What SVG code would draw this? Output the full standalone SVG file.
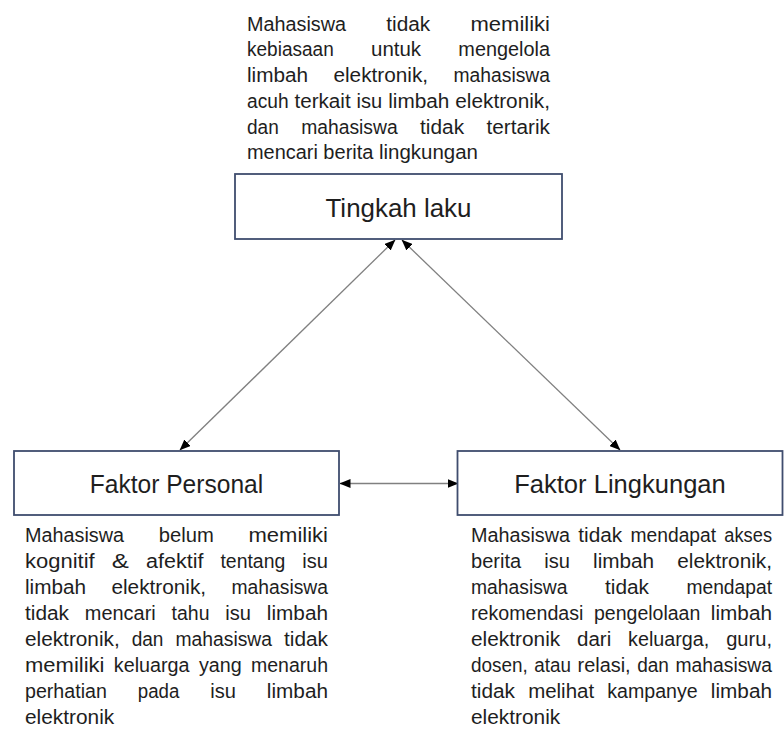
<svg xmlns="http://www.w3.org/2000/svg" width="784" height="729" viewBox="0 0 784 729">
<style>
text{font-family:"Liberation Sans",Arial,sans-serif;fill:#1e1e1e}
.box{fill:#fff;stroke:#3f4d6e;stroke-width:1.8}
.lbl{font-size:25px;text-anchor:middle}
.p{font-size:20px}
.c{fill:none;stroke:#808080;stroke-width:1.3;marker-start:url(#ah);marker-end:url(#ah)}
</style>
<defs>
<marker id="ah" markerUnits="userSpaceOnUse" markerWidth="11" markerHeight="9" refX="10.5" refY="4.5" orient="auto-start-reverse">
<path d="M0,0 L11,4.5 L0,9 z" fill="#000"/>
</marker>
</defs>
<rect width="784" height="729" fill="#fff"/>
<g id="connectors">
<line class="c" x1="395" y1="240" x2="180" y2="450"/>
<line class="c" x1="402" y1="240" x2="620" y2="450"/>
<line class="c" x1="340" y1="483.5" x2="458" y2="483.5"/>
</g>
<g id="tingkah-laku">
<rect class="box" x="235" y="174" width="327" height="65"/>
<text class="lbl" x="398.5" y="217" textLength="146" lengthAdjust="spacingAndGlyphs">Tingkah laku</text>
</g>
<g id="teks-tingkah-laku">
<text class="p" x="247" y="30.5" textLength="98.98" lengthAdjust="spacingAndGlyphs">Mahasiswa</text>
<text class="p" x="386.26" y="30.5" textLength="44" lengthAdjust="spacingAndGlyphs">tidak</text>
<text class="p" x="470.54" y="30.5" textLength="79.46" lengthAdjust="spacingAndGlyphs">memiliki</text>
<text class="p" x="247" y="56.3" textLength="86.75" lengthAdjust="spacingAndGlyphs">kebiasaan</text>
<text class="p" x="370.99" y="56.3" textLength="50.12" lengthAdjust="spacingAndGlyphs">untuk</text>
<text class="p" x="458.35" y="56.3" textLength="91.65" lengthAdjust="spacingAndGlyphs">mengelola</text>
<text class="p" x="247" y="82" textLength="61.12" lengthAdjust="spacingAndGlyphs">limbah</text>
<text class="p" x="333.44" y="82" textLength="94.71" lengthAdjust="spacingAndGlyphs">elektronik,</text>
<text class="p" x="453.47" y="82" textLength="96.54" lengthAdjust="spacingAndGlyphs">mahasiswa</text>
<text class="p" x="247" y="107.8" textLength="41.54" lengthAdjust="spacingAndGlyphs">acuh</text>
<text class="p" x="294.48" y="107.8" textLength="56.21" lengthAdjust="spacingAndGlyphs">terkait</text>
<text class="p" x="356.63" y="107.8" textLength="25.67" lengthAdjust="spacingAndGlyphs">isu</text>
<text class="p" x="388.24" y="107.8" textLength="61.12" lengthAdjust="spacingAndGlyphs">limbah</text>
<text class="p" x="455.3" y="107.8" textLength="94.71" lengthAdjust="spacingAndGlyphs">elektronik,</text>
<text class="p" x="247" y="133.6" textLength="31.77" lengthAdjust="spacingAndGlyphs">dan</text>
<text class="p" x="301.15" y="133.6" textLength="96.54" lengthAdjust="spacingAndGlyphs">mahasiswa</text>
<text class="p" x="420.07" y="133.6" textLength="44" lengthAdjust="spacingAndGlyphs">tidak</text>
<text class="p" x="486.46" y="133.6" textLength="63.54" lengthAdjust="spacingAndGlyphs">tertarik</text>
<text class="p" x="247" y="159.4" textLength="70.86" lengthAdjust="spacingAndGlyphs">mencari</text>
<text class="p" x="323.36" y="159.4" textLength="50.09" lengthAdjust="spacingAndGlyphs">berita</text>
<text class="p" x="378.95" y="159.4" textLength="99" lengthAdjust="spacingAndGlyphs">lingkungan</text>
</g>
<g id="faktor-personal">
<rect class="box" x="14" y="451" width="325" height="64"/>
<text class="lbl" x="176.5" y="493" textLength="173.4" lengthAdjust="spacingAndGlyphs">Faktor Personal</text>
</g>
<g id="teks-faktor-personal">
<text class="p" x="25" y="542.3" textLength="98.98" lengthAdjust="spacingAndGlyphs">Mahasiswa</text>
<text class="p" x="158.76" y="542.3" textLength="55" lengthAdjust="spacingAndGlyphs">belum</text>
<text class="p" x="248.54" y="542.3" textLength="79.46" lengthAdjust="spacingAndGlyphs">memiliki</text>
<text class="p" x="25" y="568.2" textLength="69.67" lengthAdjust="spacingAndGlyphs">kognitif</text>
<text class="p" x="111.76" y="568.2" textLength="17.12" lengthAdjust="spacingAndGlyphs">&amp;</text>
<text class="p" x="145.97" y="568.2" textLength="57.42" lengthAdjust="spacingAndGlyphs">afektif</text>
<text class="p" x="220.48" y="568.2" textLength="64.77" lengthAdjust="spacingAndGlyphs">tentang</text>
<text class="p" x="302.34" y="568.2" textLength="25.67" lengthAdjust="spacingAndGlyphs">isu</text>
<text class="p" x="25" y="594.1" textLength="61.12" lengthAdjust="spacingAndGlyphs">limbah</text>
<text class="p" x="111.44" y="594.1" textLength="94.71" lengthAdjust="spacingAndGlyphs">elektronik,</text>
<text class="p" x="231.47" y="594.1" textLength="96.54" lengthAdjust="spacingAndGlyphs">mahasiswa</text>
<text class="p" x="25" y="620" textLength="44" lengthAdjust="spacingAndGlyphs">tidak</text>
<text class="p" x="84.87" y="620" textLength="70.86" lengthAdjust="spacingAndGlyphs">mencari</text>
<text class="p" x="171.6" y="620" textLength="37.88" lengthAdjust="spacingAndGlyphs">tahu</text>
<text class="p" x="225.35" y="620" textLength="25.67" lengthAdjust="spacingAndGlyphs">isu</text>
<text class="p" x="266.89" y="620" textLength="61.12" lengthAdjust="spacingAndGlyphs">limbah</text>
<text class="p" x="25" y="645.9" textLength="94.71" lengthAdjust="spacingAndGlyphs">elektronik,</text>
<text class="p" x="131.7" y="645.9" textLength="31.77" lengthAdjust="spacingAndGlyphs">dan</text>
<text class="p" x="175.46" y="645.9" textLength="96.54" lengthAdjust="spacingAndGlyphs">mahasiswa</text>
<text class="p" x="284" y="645.9" textLength="44" lengthAdjust="spacingAndGlyphs">tidak</text>
<text class="p" x="25" y="671.8" textLength="79.46" lengthAdjust="spacingAndGlyphs">memiliki</text>
<text class="p" x="113.81" y="671.8" textLength="75.75" lengthAdjust="spacingAndGlyphs">keluarga</text>
<text class="p" x="198.91" y="671.8" textLength="42.77" lengthAdjust="spacingAndGlyphs">yang</text>
<text class="p" x="251.03" y="671.8" textLength="76.98" lengthAdjust="spacingAndGlyphs">menaruh</text>
<text class="p" x="25" y="697.7" textLength="81.86" lengthAdjust="spacingAndGlyphs">perhatian</text>
<text class="p" x="137.8" y="697.7" textLength="41.54" lengthAdjust="spacingAndGlyphs">pada</text>
<text class="p" x="210.28" y="697.7" textLength="25.67" lengthAdjust="spacingAndGlyphs">isu</text>
<text class="p" x="266.89" y="697.7" textLength="61.12" lengthAdjust="spacingAndGlyphs">limbah</text>
<text class="p" x="25" y="723.6" textLength="89.21" lengthAdjust="spacingAndGlyphs">elektronik</text>
</g>
<g id="faktor-lingkungan">
<rect class="box" x="457.5" y="451" width="325" height="64"/>
<text class="lbl" x="620" y="493" textLength="211.6" lengthAdjust="spacingAndGlyphs">Faktor Lingkungan</text>
</g>
<g id="teks-faktor-lingkungan">
<text class="p" x="471" y="542.3" textLength="98.98" lengthAdjust="spacingAndGlyphs">Mahasiswa</text>
<text class="p" x="578.26" y="542.3" textLength="44" lengthAdjust="spacingAndGlyphs">tidak</text>
<text class="p" x="630.54" y="542.3" textLength="85.54" lengthAdjust="spacingAndGlyphs">mendapat</text>
<text class="p" x="724.36" y="542.3" textLength="47.65" lengthAdjust="spacingAndGlyphs">akses</text>
<text class="p" x="471" y="568.2" textLength="50.09" lengthAdjust="spacingAndGlyphs">berita</text>
<text class="p" x="544.23" y="568.2" textLength="25.67" lengthAdjust="spacingAndGlyphs">isu</text>
<text class="p" x="593.04" y="568.2" textLength="61.12" lengthAdjust="spacingAndGlyphs">limbah</text>
<text class="p" x="677.3" y="568.2" textLength="94.71" lengthAdjust="spacingAndGlyphs">elektronik,</text>
<text class="p" x="471" y="594.1" textLength="96.54" lengthAdjust="spacingAndGlyphs">mahasiswa</text>
<text class="p" x="605" y="594.1" textLength="44" lengthAdjust="spacingAndGlyphs">tidak</text>
<text class="p" x="686.46" y="594.1" textLength="85.54" lengthAdjust="spacingAndGlyphs">mendapat</text>
<text class="p" x="471" y="620" textLength="112.42" lengthAdjust="spacingAndGlyphs">rekomendasi</text>
<text class="p" x="594" y="620" textLength="106.3" lengthAdjust="spacingAndGlyphs">pengelolaan</text>
<text class="p" x="710.88" y="620" textLength="61.12" lengthAdjust="spacingAndGlyphs">limbah</text>
<text class="p" x="471" y="645.9" textLength="89.21" lengthAdjust="spacingAndGlyphs">elektronik</text>
<text class="p" x="577.04" y="645.9" textLength="34.21" lengthAdjust="spacingAndGlyphs">dari</text>
<text class="p" x="628.08" y="645.9" textLength="81.25" lengthAdjust="spacingAndGlyphs">keluarga,</text>
<text class="p" x="726.16" y="645.9" textLength="45.83" lengthAdjust="spacingAndGlyphs">guru,</text>
<text class="p" x="471" y="671.8" textLength="56.83" lengthAdjust="spacingAndGlyphs">dosen,</text>
<text class="p" x="534.35" y="671.8" textLength="36.65" lengthAdjust="spacingAndGlyphs">atau</text>
<text class="p" x="577.52" y="671.8" textLength="53.15" lengthAdjust="spacingAndGlyphs">relasi,</text>
<text class="p" x="637.19" y="671.8" textLength="31.77" lengthAdjust="spacingAndGlyphs">dan</text>
<text class="p" x="675.48" y="671.8" textLength="96.54" lengthAdjust="spacingAndGlyphs">mahasiswa</text>
<text class="p" x="471" y="697.7" textLength="44" lengthAdjust="spacingAndGlyphs">tidak</text>
<text class="p" x="528.15" y="697.7" textLength="66" lengthAdjust="spacingAndGlyphs">melihat</text>
<text class="p" x="607.3" y="697.7" textLength="90.42" lengthAdjust="spacingAndGlyphs">kampanye</text>
<text class="p" x="710.87" y="697.7" textLength="61.12" lengthAdjust="spacingAndGlyphs">limbah</text>
<text class="p" x="471" y="723.6" textLength="89.21" lengthAdjust="spacingAndGlyphs">elektronik</text>
</g>
</svg>
